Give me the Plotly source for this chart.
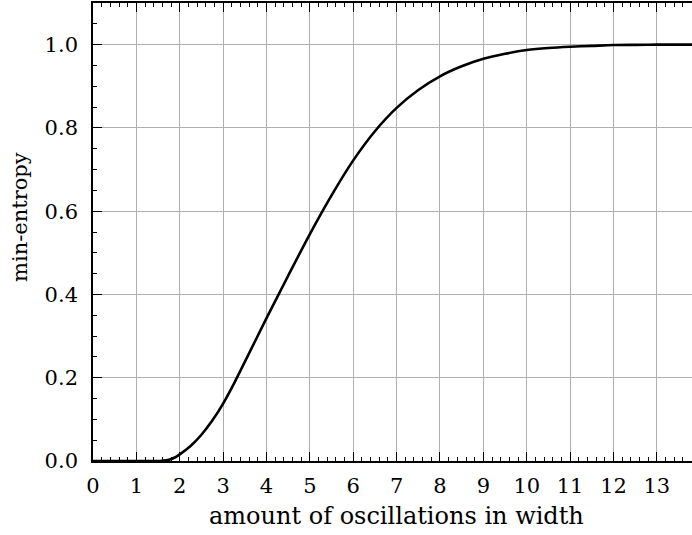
import plotly.graph_objects as go

# Data
x_vals = [0, 0.5, 1, 1.4, 1.6, 1.75, 1.9, 2, 2.25, 2.5, 2.75, 3, 3.25, 3.5, 4, 4.5, 5, 5.5,
          6, 6.5, 7, 7.5, 8, 8.5, 9, 9.5, 10, 10.5, 11, 11.5, 12, 12.5, 13, 13.81]
y_vals = [0, 0, 0, 0, 0.0005, 0.003, 0.009, 0.016, 0.036, 0.063, 0.097, 0.138, 0.186, 0.238,
          0.343, 0.445, 0.545, 0.638, 0.722, 0.792, 0.848, 0.891, 0.924, 0.948, 0.966,
          0.978, 0.987, 0.992, 0.995, 0.997, 0.999, 0.9995, 1.0, 1.0]

x_ticks = list(range(0, 14))
y_ticks = [0.0, 0.2, 0.4, 0.6, 0.8, 1.0]
y_ticklabels = ["0.0", "0.2", "0.4", "0.6", "0.8", "1.0"]

FONT = "DejaVu Serif"
FS = 21

fig = go.Figure()
fig.add_trace(go.Scatter(x=x_vals, y=y_vals, mode="lines",
                         line=dict(color="black", width=2.6, shape="spline", smoothing=0.8),
                         showlegend=False, hoverinfo="skip"))

fig.update_layout(
    width=692, height=535,
    margin=dict(l=93, r=0, t=3, b=74),
    paper_bgcolor="white", plot_bgcolor="white",
    font=dict(family=FONT, size=FS, color="black"),
    showlegend=False,
)
fig.update_xaxes(
    range=[0, 13.81], tickmode="array", tickvals=x_ticks,
    ticktext=[str(v) for v in x_ticks],
    ticks="inside", ticklen=9, tickwidth=1.2, tickcolor="black",
    showline=True, linecolor="black", linewidth=1.6, mirror="ticks",
    showgrid=True, gridcolor="#b0b0b0", gridwidth=1.1,
    zeroline=False, ticklabelstandoff=5,
    minor=dict(dtick=0.2, ticks="inside", ticklen=4.5, tickwidth=1.1, tickcolor="black", showgrid=False),
    tickfont=dict(family=FONT, size=FS),
)
fig.update_yaxes(
    range=[0, 1.1], tickmode="array", tickvals=y_ticks, ticktext=y_ticklabels,
    ticks="inside", ticklen=9, tickwidth=1.2, tickcolor="black",
    showline=True, linecolor="black", linewidth=1.6, mirror=False,
    showgrid=True, gridcolor="#b0b0b0", gridwidth=1.1,
    zeroline=False, ticklabelstandoff=9,
    minor=dict(dtick=0.05, ticks="inside", ticklen=4.5, tickwidth=1.1, tickcolor="black", showgrid=False),
    tickfont=dict(family=FONT, size=FS),
)

fig.add_annotation(text="amount of oscillations in width", xref="paper", yref="paper",
                   x=(396 - 93) / 599, y=-(516 - 461) / 458,
                   xanchor="center", yanchor="middle", showarrow=False,
                   font=dict(family=FONT, size=24))
fig.add_annotation(text="min-entropy", xref="paper", yref="paper",
                   x=(20 - 93) / 599, y=(461 - 217) / 458, textangle=-90,
                   xanchor="center", yanchor="middle", showarrow=False,
                   font=dict(family=FONT, size=21))

fig.write_html("out.html")
